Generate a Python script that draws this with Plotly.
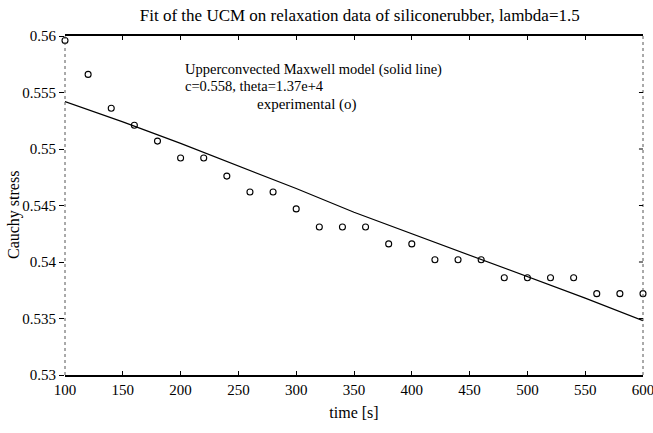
import plotly.graph_objects as go

# experimental data (o)
time_exp = [100, 120, 140, 160, 180, 200, 220, 240, 260, 280, 300, 320, 340,
            360, 380, 400, 420, 440, 460, 480, 500, 520, 540, 560, 580, 600]
stress_exp = [0.5596, 0.5566, 0.5536, 0.5521, 0.5507, 0.5492, 0.5492, 0.5476,
              0.5462, 0.5462, 0.5447, 0.5431, 0.5431, 0.5431, 0.5416, 0.5416,
              0.5402, 0.5402, 0.5402, 0.5386, 0.5386, 0.5386, 0.5386, 0.5372,
              0.5372, 0.5372]

# UCM model (solid line)
time_fit = [100, 150, 200, 250, 300, 350, 400, 450, 500, 550, 600]
stress_fit = [0.5542, 0.5524, 0.5505, 0.5485, 0.5465, 0.5444, 0.5425, 0.5406,
              0.5387, 0.5368, 0.5348]

x_ticks = [100, 150, 200, 250, 300, 350, 400, 450, 500, 550, 600]
y_ticks = [0.53, 0.535, 0.54, 0.545, 0.55, 0.555, 0.56]
y_tick_text = ["0.53", "0.535", "0.54", "0.545", "0.55", "0.555", "0.56"]

serif = "Liberation Serif, Times New Roman, serif"

fig = go.Figure()
fig.add_trace(go.Scatter(x=time_fit, y=stress_fit, mode="lines",
                         line=dict(color="black", width=1.2), showlegend=False))
fig.add_trace(go.Scatter(x=time_exp, y=stress_exp, mode="markers",
                         marker=dict(symbol="circle-open", size=6, color="black",
                                     line=dict(width=1.1, color="black")),
                         showlegend=False, cliponaxis=False))

fig.update_layout(
    width=653, height=433,
    margin=dict(l=65, r=10, t=36, b=58, autoexpand=False),
    paper_bgcolor="white", plot_bgcolor="white",
    font=dict(family=serif, size=14, color="black"),
    title=dict(text="Fit of the UCM on relaxation data of siliconerubber, lambda=1.5",
               xref="container", x=0.551, xanchor="center",
               yref="container", y=0.965, yanchor="middle",
               font=dict(family=serif, size=17, color="black")),
    xaxis=dict(range=[100, 600], tickvals=x_ticks, ticks="inside", ticklen=4,
               tickcolor="black", showgrid=False, zeroline=False,
               showline=True, linecolor="black", linewidth=1.5, mirror="ticks",
               ticklabeloverflow="allow", automargin=False,
               title=dict(text="time [s]", standoff=10,
                          font=dict(family=serif, size=16)),
               tickfont=dict(family=serif, size=15)),
    yaxis=dict(range=[0.53, 0.56], tickvals=y_ticks, ticktext=y_tick_text,
               ticks="outside", ticklen=5, tickcolor="black",
               showgrid=False, zeroline=False, showline=False,
               ticklabeloverflow="allow", automargin=False,
               tickfont=dict(family=serif, size=15)),
)

# y-axis title placed like the reference
fig.add_annotation(x=(14 - 65) / 578, y=(375 - 215) / 339, xref="paper", yref="paper",
                   text="Cauchy stress", showarrow=False, textangle=-90,
                   xanchor="center", yanchor="middle",
                   font=dict(family=serif, size=16))

# dotted left and right frame sides
for xp in (0, 1):
    fig.add_shape(type="line", xref="paper", yref="paper", x0=xp, x1=xp, y0=0, y1=1,
                  line=dict(color="#555555", width=1, dash="dot"))
# right-side tick marks
for yv in y_ticks[1:-1]:
    fig.add_shape(type="line", xref="paper", yref="y", x0=0.993, x1=1.0, y0=yv, y1=yv,
                  line=dict(color="black", width=1))

fig.add_annotation(x=0.204, y=0.901, xref="paper", yref="paper",
                   text="Upperconvected Maxwell model (solid line)",
                   showarrow=False, xanchor="left", yanchor="middle",
                   font=dict(family=serif, size=14.5))
fig.add_annotation(x=0.204, y=0.852, xref="paper", yref="paper",
                   text="c=0.558, theta=1.37e+4",
                   showarrow=False, xanchor="left", yanchor="middle",
                   font=dict(family=serif, size=14.5))
fig.add_annotation(x=0.329, y=0.798, xref="paper", yref="paper",
                   text="experimental (o)",
                   showarrow=False, xanchor="left", yanchor="middle",
                   font=dict(family=serif, size=15))

fig.write_html("out.html")
